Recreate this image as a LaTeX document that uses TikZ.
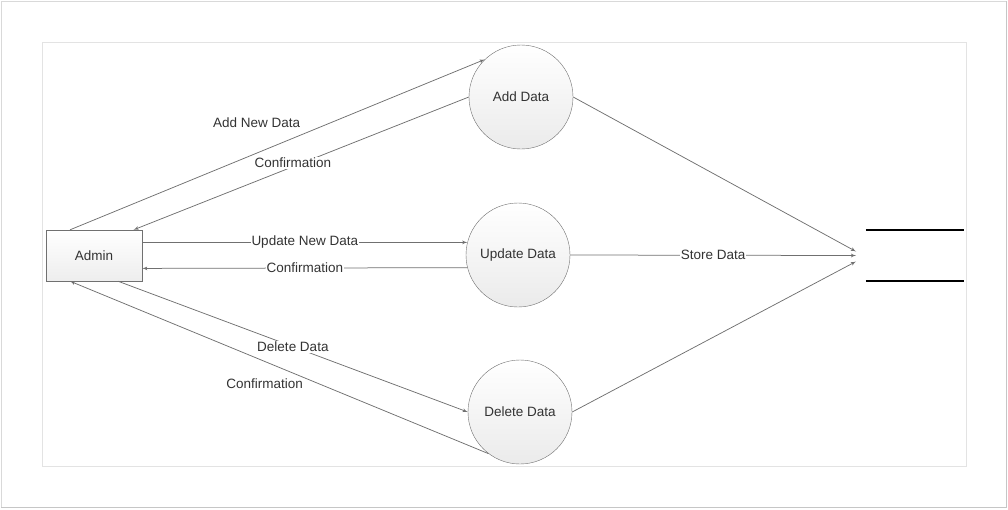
\documentclass[tikz,border=0pt]{standalone}
\usepackage{fontspec}
\setmainfont{Liberation Sans}
\usepackage{tikz}
\usetikzlibrary{shapes,arrows}
\usetikzlibrary{calc}
\definecolor{edgegray}{HTML}{707070}
\definecolor{textdark}{HTML}{333333}
\tikzstyle{procblock} = [circle, draw=edgegray, top color=white, bottom color=gray!16,
    minimum size=104pt, inner sep=0pt, text=textdark]
\tikzstyle{actorblock} = [rectangle, draw=edgegray, top color=white, bottom color=gray!14,
    minimum width=96pt, minimum height=51pt, text=textdark]
\tikzstyle{line} = [draw=edgegray, -latex', line width=0.75pt]
\tikzstyle{flowlabel} = [fill=white, inner sep=1pt, text=textdark]

\begin{document}
\begin{tikzpicture}[x=1pt, y=-1pt, font=\fontsize{13.5}{16}\selectfont]
    \useasboundingbox (0,0) rectangle (1008,509);
    % page frame
    \draw[gray!30, line width=1pt] (1,1) rectangle (1006.5,507.5);
    \draw[gray!45, line width=1.2pt] (1006.5,1) -- (1006.5,507.5) -- (1,507.5);
    \draw[gray!22] (42.5,42.5) rectangle (966,466);

    \node [actorblock] (admin) at (94,255.5) {Admin};
    \node [procblock] (add) at (521,97) {Add Data};
    \node [procblock] (update) at (518,255) {Update Data};
    \node [procblock] (delete) at (520,412) {Delete Data};
    % data store
    \node (store) at (915,255.5) [minimum width=98pt, minimum height=51pt] {};
    \draw[line width=1.6pt] (store.north west) -- (store.north east);
    \draw[line width=1.6pt] (store.south west) -- (store.south east);
    \coordinate (hub) at (856,255.5);

    % Draw edges
    \path[line] (admin.133) -- (add.134)
        node[text=textdark, pos=0.45, above=22pt] {Add New Data};
    \path[line] (add.180) -- (admin.33)
        node[flowlabel, pos=0.525, yshift=4pt] {Confirmation};
    \path[line] (admin.15) -- (update.166)
        node[flowlabel, pos=0.5] {Update New Data};
    \path[line] (update.194) -- (admin.-15)
        node[flowlabel, pos=0.5] {Confirmation};
    \path[line] (admin.-47) -- (delete.180)
        node[flowlabel, pos=0.5] {Delete Data};
    \path[line] (delete.233) -- (admin.227)
        node[text=textdark, pos=0.535, below=14pt] {Confirmation};

    \path[line] (add.east) -- ([yshift=4pt]hub);
    \path[line] (update.east) -- (hub)
        node[flowlabel, pos=0.5] {Store Data};
    \path[line] (delete.east) -- ([yshift=-6pt]hub);

\end{tikzpicture}
\end{document}
